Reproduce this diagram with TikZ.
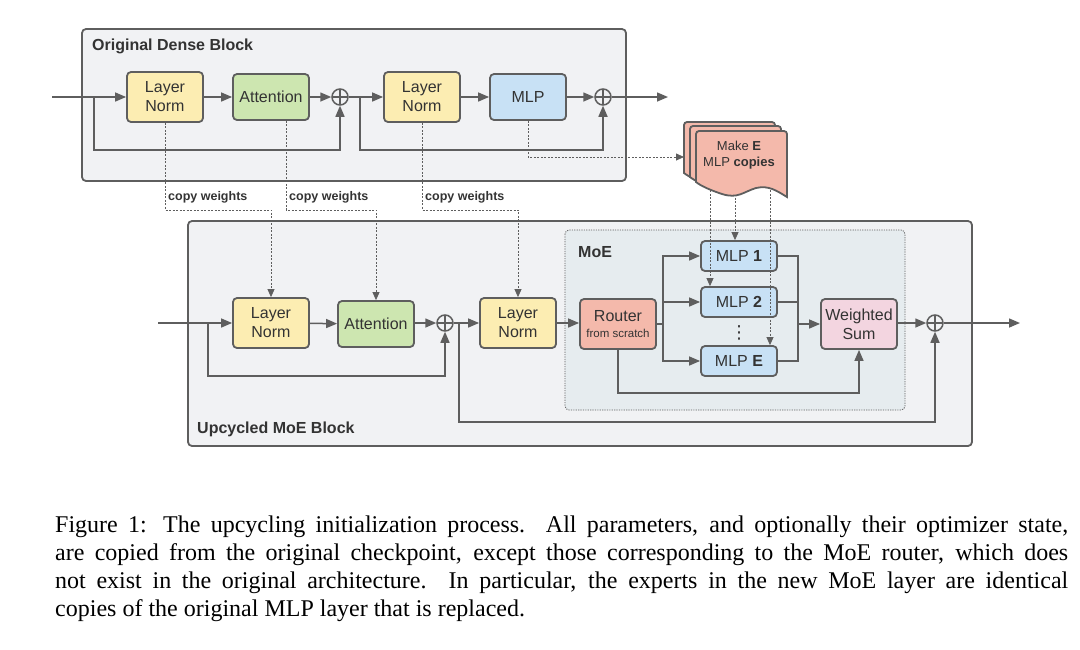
\documentclass[tikz,border=0pt]{standalone}
\usepackage{fontspec}
\setmainfont{Liberation Sans}
\newfontfamily\capfont{Liberation Serif}
\newfontfamily\djv{DejaVu Sans}
\usetikzlibrary{arrows.meta}
\definecolor{lineg}{HTML}{5E5E5E}
\definecolor{txt}{HTML}{333333}
\definecolor{blockfill}{HTML}{F1F2F4}
\definecolor{moefill}{HTML}{E6ECEF}
\definecolor{yel}{HTML}{FCEDB2}
\definecolor{grn}{HTML}{CDE6B0}
\definecolor{blu}{HTML}{C8E1F5}
\definecolor{sal}{HTML}{F4B9AB}
\definecolor{pnk}{HTML}{F3D5E0}
\tikzset{
  box/.style={draw=lineg, line width=1.8pt, rounded corners=4pt, minimum width=76pt,
    minimum height=50pt, align=center, text=txt, inner sep=0pt, font=\fontsize{16}{19}\selectfont},
  smallbox/.style={box, minimum height=30pt},
  midbox/.style={box, minimum height=46pt},
  plus/.style={circle, draw=lineg, line width=1.5pt, minimum size=16pt, inner sep=0pt,
    path picture={\draw[lineg, line width=1.5pt]
      (path picture bounding box.north) -- (path picture bounding box.south)
      (path picture bounding box.west) -- (path picture bounding box.east);}},
  ln/.style={draw=lineg, line width=1.5pt},
  ar/.style={ln, -{Triangle[length=11pt,width=9pt]}},
  dsh/.style={draw=lineg, line width=0.8pt, dash pattern=on 2pt off 1.5pt},
  dshar/.style={dsh, -{Triangle[length=8pt,width=7pt]}},
  blocktitle/.style={anchor=west, inner sep=0pt, text=txt, font=\bfseries\fontsize{16}{19}\selectfont},
  cwlabel/.style={anchor=west, inner sep=0pt, text=txt, font=\bfseries\fontsize{12.5}{15}\selectfont},
  capline/.style={anchor=base west, inner sep=0pt, font=\capfont\fontsize{24}{28}\selectfont},
  docpart/.style={fill=sal, draw=lineg, line width=1.8pt}
}
\begin{document}
\begin{tikzpicture}[x=1pt,y=-1pt]
\useasboundingbox (0,0) rectangle (1080,649);

% containers
\draw[fill=blockfill, draw=lineg, line width=1.8pt, rounded corners=4pt] (82,29) rectangle (626,181);
\draw[fill=blockfill, draw=lineg, line width=1.8pt, rounded corners=4pt] (188,221) rectangle (972,446);
\draw[fill=moefill, draw=lineg, line width=0.8pt, dash pattern=on 1.2pt off 1.2pt, rounded corners=4pt] (565,230) rectangle (905,410);

\node[blocktitle] (t1) at (92,46) {Original Dense Block};
\node[blocktitle] (t2) at (197,429) {Upcycled MoE Block};
\node[blocktitle] (t3) at (578,252) {MoE};

% dense block nodes
\node[box, fill=yel] (ln1) at (165,97) {Layer\\Norm};
\node[midbox, fill=grn] (att1) at (271,97) {Attention};
\node[plus] (p1) at (340,97) {};
\node[box, fill=yel] (ln2) at (422,97) {Layer\\Norm};
\node[midbox, fill=blu] (mlp) at (528,97) {MLP};
\node[plus] (p2) at (603,97) {};

\coordinate (in1) at (52,97);
\coordinate (b1) at (94,97);
\coordinate (b2) at (360,97);
\coordinate (out1) at (668,97);

\draw[ln] (in1) -- (b1);
\draw[ar] (b1) -- (ln1);
\draw[ar] (ln1) -- (att1);
\draw[ar] (att1) -- (p1);
\draw[ar] (b1) -- ++(0,53) -| (p1);
\draw[ln] (p1) -- (b2);
\draw[ar] (b2) -- (ln2);
\draw[ar] (ln2) -- (mlp);
\draw[ar] (mlp) -- (p2);
\draw[ar] (b2) -- ++(0,53) -| (p2);
\draw[ar] (p2) -- (out1);

% upcycled block nodes
\node[box, fill=yel] (ln3) at (271,323) {Layer\\Norm};
\node[midbox, fill=grn] (att2) at (376,324) {Attention};
\node[plus] (p3) at (445,323) {};
\node[box, fill=yel] (ln4) at (518,323) {Layer\\Norm};
\node[box, fill=sal] (router) at (618,324) {Router\\[-3pt]{\fontsize{11.5}{13}\selectfont from scratch}};
\node[smallbox, fill=blu] (mlp1) at (739,256) {MLP \textbf{1}};
\node[smallbox, fill=blu] (mlp2) at (739,302) {MLP \textbf{2}};
\node[text=txt, inner sep=0pt, font=\djv\fontsize{18}{20}\selectfont] (dots) at (739,333) {⋮};
\node[smallbox, fill=blu] (mlpE) at (739,361) {MLP \textbf{E}};
\node[box, fill=pnk] (ws) at (859,324) {Weighted\\Sum};
\node[plus] (p4) at (935,323) {};

\coordinate (in2) at (158,323);
\coordinate (b3) at (208,323);
\coordinate (b4) at (459,323);
\coordinate (rb) at (663,324);
\coordinate (mb) at (798,324);
\coordinate (out2) at (1020,323);

\draw[ln] (in2) -- (b3);
\draw[ar] (b3) -- (ln3);
\draw[ar] (ln3) -- (att2);
\draw[ar] (att2.east |- p3) -- (p3);
\draw[ar] (b3) -- ++(0,53) -| (p3);
\draw[ln] (p3) -- (b4);
\draw[ar] (b4) -- (ln4);
\draw[ar] (ln4.east) -- (router.west |- ln4.east);
\draw[ln] (router.east) -- (rb);
\draw[ar] (rb) |- (mlp1);
\draw[ar] (rb) |- (mlp2);
\draw[ar] (rb) |- (mlpE);
\draw[ln] (mlp1) -| (mb);
\draw[ln] (mlp2) -| (mb);
\draw[ln] (mlpE) -| (mb);
\draw[ar] (mb) -- (ws);
\draw[ar] (router.south) -- ++(0,43) -| (ws.south);
\draw[ar] (ws.east |- p4) -- (p4);
\draw[ar] (b4) -- ++(0,99) -| (p4);
\draw[ar] (p4) -- (out2);

% copy weights
\draw[dshar] (ln1.south) -- ++(0,87) -| (ln3.north);
\draw[dshar] (att1.south -| 286,0) -- ++(0,89) -| (att2.north);
\draw[dshar] (ln2.south) -- ++(0,87) -| (ln4.north);
\node[cwlabel] (cw1) at (168,197) {copy weights};
\node[cwlabel] (cw2) at (289,197) {copy weights};
\node[cwlabel] (cw3) at (425,197) {copy weights};

% MLP copies
\coordinate (docin) at (684,157);
\coordinate (d1) at (735,194);
\coordinate (d2) at (710,190);
\coordinate (d3) at (770,190);
\draw[dshar] (mlp.south) |- (docin);
\draw[dshar] (d1) -- (d1 |- mlp1.north);
\draw[dshar] (d2) -- (d2 |- mlp2.north);
\draw[dshar] (d3) -- (d3 |- mlpE.north);

\foreach \dx/\dy in {-12/-9, -6/-5, 0/0} {
  \draw[docpart] (696+\dx,182+\dy) [rounded corners=3pt] -- (696+\dx,131+\dy) -- (787+\dx,131+\dy)
    [sharp corners] -- (787+\dx,197+\dy)
    .. controls (777+\dx,191+\dy) and (769+\dx,185+\dy) .. (756+\dx,188+\dy)
    .. controls (743+\dx,192+\dy) and (738+\dx,199+\dy) .. (722+\dx,194+\dy)
    .. controls (710+\dx,190+\dy) and (701+\dx,186+\dy) .. (696+\dx,182+\dy) -- cycle;
}
\node[align=center, text=txt, inner sep=0pt, font=\fontsize{13}{16}\selectfont] (copies) at (739,155) {Make \textbf{E}\\MLP \textbf{copies}};

% caption
\node[capline] (cap1) at (55,532) {\makebox[1013pt][s]{Figure 1: The upcycling initialization process. All parameters, and optionally their optimizer state,}};
\node[capline] (cap2) at (55,560) {\makebox[1013pt][s]{are copied from the original checkpoint, except those corresponding to the MoE router, which does}};
\node[capline] (cap3) at (55,588) {\makebox[1013pt][s]{not exist in the original architecture. In particular, the experts in the new MoE layer are identical}};
\node[capline] (cap4) at (55,616) {copies of the original MLP layer that is replaced.};
\end{tikzpicture}
\end{document}
